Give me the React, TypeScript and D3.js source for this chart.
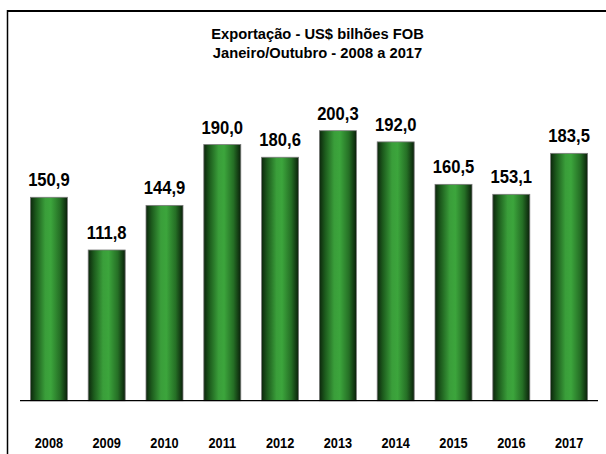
import React from "react";
import * as d3 from "d3";

const years = ["2008", "2009", "2010", "2011", "2012", "2013", "2014", "2015", "2016", "2017"];
const values = [150.9, 111.8, 144.9, 190.0, 180.6, 200.3, 192.0, 160.5, 153.1, 183.5];
const titleLines = ["Exportação - US$ bilhões FOB", "Janeiro/Outubro - 2008 a 2017"];

const W = 606;
const H = 454;
const FONT = "'Liberation Sans', Arial, sans-serif";

export default function App() {
  const baseline = 400.7;
  const x = d3.scaleBand<string>().domain(years).range([20, 598]).paddingInner(0.36).paddingOuter(0.18);
  const y = d3.scaleLinear().domain([0, 200.3]).range([baseline, 130.7]);
  const fmt = (v: number) => d3.format(".1f")(v).replace(".", ",");

  return (
    <div style={{ position: "fixed", left: 0, top: 0 }}>
      <svg width={W} height={H} style={{ display: "block" }}>
        <defs>
          <linearGradient id="barGrad" x1="0" x2="1" y1="0" y2="0">
            <stop offset="0%" stopColor="#0c260c" />
            <stop offset="15%" stopColor="#1c5a1c" />
            <stop offset="40%" stopColor="#3a9e3a" />
            <stop offset="55%" stopColor="#3ca53c" />
            <stop offset="80%" stopColor="#256f25" />
            <stop offset="100%" stopColor="#0a200a" />
          </linearGradient>
        </defs>
        <rect x={0} y={0} width={W} height={H} fill="#ffffff" />
        <line x1={7.5} x2={606} y1={11} y2={11} stroke="#000" strokeWidth={2} />
        <line x1={7.5} x2={7.5} y1={10} y2={454} stroke="#000" strokeWidth={1.5} />
        {titleLines.map((t, i) => (
          <text
            key={i}
            transform={`translate(317.5,${38.5 + i * 19.5}) scale(0.95,1)`}
            textAnchor="middle"
            fontFamily={FONT}
            fontWeight="bold"
            fontSize={15.5}
            fill="#000"
          >
            {t}
          </text>
        ))}
        {years.map((yr, i) => {
          const bx = x(yr)!;
          const bw = x.bandwidth();
          const top = y(values[i]);
          const cx = bx + bw / 2;
          return (
            <g key={yr}>
              <rect x={bx} y={top} width={bw} height={baseline - top} fill="url(#barGrad)" stroke="#7a7a7a" strokeWidth={0.8} />
              <text
                transform={`translate(${cx},${top - 11}) scale(0.95,1)`}
                textAnchor="middle"
                fontFamily={FONT}
                fontWeight="bold"
                fontSize={17.5}
                fill="#000"
              >
                {fmt(values[i])}
              </text>
              <text
                transform={`translate(${cx},447.5) scale(0.88,1)`}
                textAnchor="middle"
                fontFamily={FONT}
                fontWeight="bold"
                fontSize={14.5}
                fill="#000"
              >
                {yr}
              </text>
            </g>
          );
        })}
        <line x1={20} x2={598} y1={baseline} y2={baseline} stroke="#000" strokeWidth={1.2} />
      </svg>
    </div>
  );
}
